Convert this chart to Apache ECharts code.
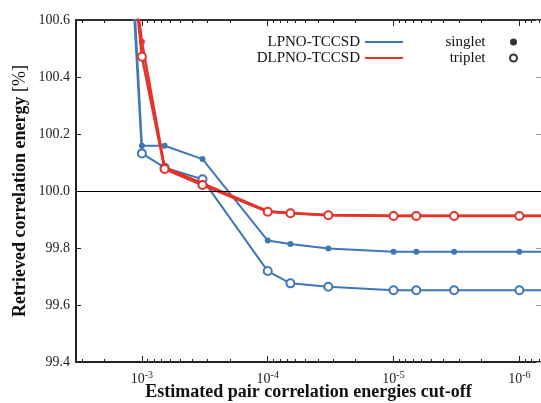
<!DOCTYPE html>
<html>
<head>
<meta charset="utf-8">
<script src="https://cdn.jsdelivr.net/npm/echarts@6/dist/echarts.min.js"></script>
<style>
  html, body { margin: 0; padding: 0; background: #fff; }
  #chart { width: 541px; height: 403px; }
</style>
</head>
<body>
<div id="chart"></div>
<script>
// Pair-energy cut-off values (x) and retrieved correlation energy in % (y)
const cutoffs      = [3.3e-3, 1e-3, 6.6e-4, 3.3e-4, 1e-4, 6.6e-5, 3.3e-5, 1e-5, 6.6e-6, 3.3e-6, 1e-6, 6.6e-7];
const lpnoSinglet  = [104.5, 100.159, 100.159, 100.112, 99.826, 99.814, 99.798, 99.787, 99.787, 99.787, 99.787, 99.787];
const lpnoTriplet  = [104.2, 100.132, 100.082, 100.041, 99.719, 99.676, 99.664, 99.652, 99.652, 99.652, 99.652, 99.652];
const dlpnoSinglet = [102.3, 100.524, 100.083, 100.027, 99.929, 99.923, 99.916, 99.913, 99.913, 99.913, 99.913, 99.913];
const dlpnoTriplet = [102.7, 100.471, 100.077, 100.021, 99.927, 99.922, 99.915, 99.912, 99.912, 99.912, 99.912, 99.912];

const majorTicks = [1e-3, 1e-4, 1e-5, 1e-6];
const minorTicks = [];
for (let d = -7; d <= -3; d++) {
  for (let k = 2; k <= 9; k++) minorTicks.push(k * Math.pow(10, d));
}

const BLUE = '#3f77b6';
const RED = '#e5322b';
const FONT = '"Liberation Serif", "DejaVu Serif", serif';
const X_MIN = 6.73e-7, X_MAX = 3.34e-3;

const pairs = ys => cutoffs.map((x, i) => [x, ys[i]]);

function logAxis(extra) {
  return Object.assign({
    type: 'log', logBase: 10, inverse: true, min: X_MIN, max: X_MAX,
    gridIndex: 0, splitLine: { show: false }, minorTick: { show: false }
  }, extra);
}

const filledSym = { symbol: 'circle', symbolSize: 6 };
const openSym = { symbol: 'circle', symbolSize: 8 };
const legendText = { fontFamily: FONT, fontSize: 15, color: '#111', lineHeight: 16 };

const chart = echarts.init(document.getElementById('chart'));
chart.setOption({
  animation: false,
  backgroundColor: '#fff',
  textStyle: { fontFamily: FONT },
  grid: { left: 76, top: 20, right: 0, bottom: 41, containLabel: false, outerBoundsMode: 'none' },
  legend: [
    {
      data: [{ name: 'LPNO-TCCSD', icon: 'rect' }, { name: 'DLPNO-TCCSD', icon: 'rect' }],
      orient: 'vertical', align: 'right', right: 133, top: 29,
      itemWidth: 38, itemHeight: 2, itemGap: 0,
      textStyle: legendText, selectedMode: false
    },
    {
      data: ['singlet', 'triplet'],
      orient: 'vertical', align: 'right', right: 18, top: 29,
      itemWidth: 46, itemHeight: 7, itemGap: 0,
      textStyle: legendText, selectedMode: false
    }
  ],
  xAxis: [
    logAxis({
      position: 'bottom',
      name: 'Estimated pair correlation energies cut-off',
      nameLocation: 'middle', nameGap: 21, nameMoveOverlap: false,
      nameTextStyle: { fontFamily: FONT, fontSize: 18, fontWeight: 'bold', color: '#111' },
      axisLine: { lineStyle: { color: '#222', width: 2 } },
      axisTick: { inside: true, length: 6, lineStyle: { color: '#222' }, customValues: majorTicks },
      axisLabel: {
        customValues: majorTicks, margin: 8, color: '#222',
        formatter: v => '{b|10}{sup|' + Math.round(Math.log10(v)) + '}',
        rich: {
          b: { fontSize: 14, lineHeight: 16, fontFamily: FONT, color: '#222', verticalAlign: 'bottom' },
          sup: { fontSize: 10, lineHeight: 16, fontFamily: FONT, color: '#222', verticalAlign: 'top' }
        }
      }
    }),
    logAxis({
      position: 'bottom',
      axisLine: { show: false },
      axisTick: { inside: true, length: 3, lineStyle: { color: '#222' }, customValues: minorTicks },
      axisLabel: { show: false }
    }),
    logAxis({
      position: 'top',
      axisLine: { lineStyle: { color: '#333', width: 2 } },
      axisTick: { inside: true, length: 6, lineStyle: { color: '#222' }, customValues: majorTicks },
      axisLabel: { show: false }
    }),
    logAxis({
      position: 'top',
      axisLine: { show: false },
      axisTick: { inside: true, length: 3, lineStyle: { color: '#222' }, customValues: minorTicks },
      axisLabel: { show: false }
    })
  ],
  yAxis: [
    {
      type: 'value', min: 99.4, max: 100.6, interval: 0.2, position: 'left',
      name: 'Retrieved correlation energy {r|[%]}',
      nameLocation: 'middle', nameGap: 47, nameRotate: 90, nameMoveOverlap: false,
      nameTextStyle: {
        fontFamily: FONT, fontSize: 18, fontWeight: 'bold', color: '#111',
        rich: { r: { fontFamily: FONT, fontSize: 18, fontWeight: 'normal', color: '#111' } }
      },
      axisLine: { show: true, lineStyle: { color: '#222', width: 2 } },
      axisTick: { show: true, inside: true, length: 5, lineStyle: { color: '#222' } },
      axisLabel: { fontSize: 14, color: '#222', margin: 6, formatter: v => v.toFixed(1) },
      splitLine: { show: false }
    },
    {
      type: 'value', min: 99.4, max: 100.6, interval: 0.2, position: 'right',
      axisLine: { show: false },
      axisTick: { show: true, inside: true, length: 5, lineStyle: { color: '#999' } },
      axisLabel: { show: false },
      splitLine: { show: false }
    }
  ],
  series: [
    // legend entries
    { name: 'LPNO-TCCSD', type: 'line', data: [], symbol: 'none', color: BLUE, lineStyle: { color: BLUE, width: 2 } },
    { name: 'DLPNO-TCCSD', type: 'line', data: [], symbol: 'none', color: RED, lineStyle: { color: RED, width: 2.5 } },
    { name: 'singlet', type: 'scatter', data: [], symbol: 'circle', itemStyle: { color: '#000' } },
    { name: 'triplet', type: 'scatter', data: [], symbol: 'circle', itemStyle: { color: '#fff', borderColor: '#000', borderWidth: 2 } },

    // LPNO-TCCSD
    Object.assign({
      name: 'LPNO singlet', type: 'line', data: pairs(lpnoSinglet), z: 3,
      lineStyle: { color: BLUE, width: 2 }, itemStyle: { color: BLUE },
      markLine: {
        silent: true, symbol: ['none', 'none'], label: { show: false },
        lineStyle: { color: '#000', width: 1, type: 'solid' },
        data: [{ yAxis: 100 }]
      }
    }, filledSym),
    Object.assign({
      name: 'LPNO triplet', type: 'line', data: pairs(lpnoTriplet), z: 3,
      lineStyle: { color: BLUE, width: 2 },
      itemStyle: { color: '#fff', borderColor: BLUE, borderWidth: 2 }
    }, openSym),

    // DLPNO-TCCSD
    Object.assign({
      name: 'DLPNO singlet', type: 'line', data: pairs(dlpnoSinglet), z: 4,
      lineStyle: { color: RED, width: 2.5 }, itemStyle: { color: RED }
    }, filledSym),
    Object.assign({
      name: 'DLPNO triplet', type: 'line', data: pairs(dlpnoTriplet), z: 4,
      lineStyle: { color: RED, width: 2.5 },
      itemStyle: { color: '#fff', borderColor: RED, borderWidth: 2 }
    }, openSym)
  ]
});
</script>
</body>
</html>
